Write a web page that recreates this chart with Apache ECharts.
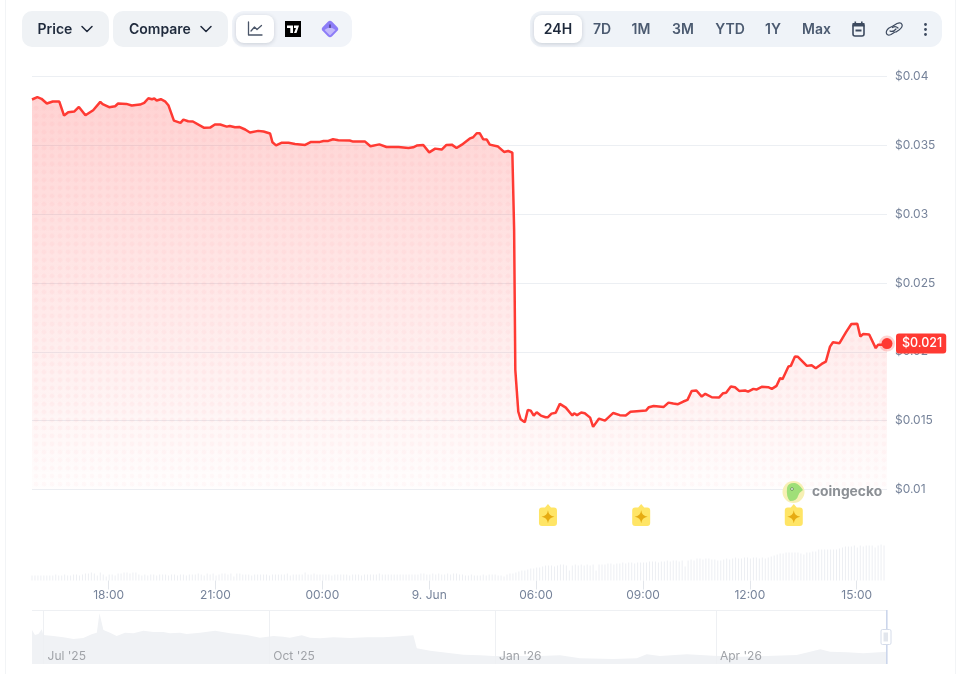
<!DOCTYPE html>
<html>
<head>
<meta charset="utf-8">
<title>Token price, 24 hours</title>
<script src="https://cdn.jsdelivr.net/npm/echarts@6/dist/echarts.min.js"></script>
<style>
  html, body { margin: 0; padding: 0; background: #fff; }
  #chart { width: 960px; height: 674px; }
</style>
</head>
<body>
<div id="chart"></div>
<script>
// Minutes since the start of the 24 hour window (15:52)
const priceMinutes = [
  0,9,16,25,35,46,54,61,71,79,90,103,115,119,130,140,145,159,168,182,189,196,202,206,210,217,224,230,239,250,
  255,263,271,290,300,308,317,328,333,336,342,349,359,367,381,390,401,405,411,420,432,443,460,470,485,491,499,507,516,535,
  541,561,570,585,597,617,634,642,648,659,669,679,690,698,707,715,724,738,743,749,754,760,766,771,785,795,802,809,812,814,
  819,823,830,835,840,845,850,857,865,869,875,882,889,899,910,913,918,925,931,940,945,955,965,979,990,1000,1008,1024,1034,1039,
  1047,1064,1072,1080,1088,1097,1104,1111,1119,1128,1134,1145,1157,1164,1169,1177,1184,1191,1201,1206,1215,1220,1229,1240,1246,1254,1260,1264,1274,1278,
  1285,1290,1305,1313,1320,1330,1337,1344,1349,1360,1371,1380,1390,1395,1400,1410,1421,1425,1434,1440
];
const priceValues = [
  .03833,.03850,.03838,.03804,.03818,.03818,.03716,.03740,.03745,.03779,.03718,.03755,.03816,.03799,.03777,.03784,.03804,.03801,.03789,.03796,.03809,.03842,.03835,.03840,.03826,.03835,.03820,.03789,.03680,.03663,
  .03687,.03675,.03673,.03627,.03629,.03651,.03651,.03636,.03641,.03629,.03631,.03634,.03615,.03593,.03605,.03600,.03586,.03522,.03500,.03518,.03518,.03510,.03503,.03525,.03525,.03532,.03532,.03544,.03537,.03535,
  .03527,.03527,.03493,.03507,.03488,.03488,.03481,.03486,.03498,.03503,.03449,.03476,.03469,.03503,.03505,.03481,.03505,.03551,.03559,.03588,.03588,.03544,.03542,.03505,.03491,.03452,.03459,.03447,.02887,.01869,
  .01566,.01510,.01488,.01578,.01573,.01537,.01561,.01537,.01525,.01525,.01551,.01558,.01622,.01595,.01537,.01554,.01540,.01559,.01554,.01522,.01455,.01515,.01500,.01556,.01540,.01537,.01564,.01571,.01573,.01598,
  .01607,.01600,.01631,.01624,.01620,.01639,.01651,.01716,.01719,.01675,.01695,.01670,.01668,.01700,.01702,.01748,.01743,.01716,.01719,.01711,.01731,.01726,.01746,.01743,.01731,.01753,.01809,.01801,.01893,.01898,
  .01966,.01964,.01898,.01903,.01881,.01912,.01929,.02038,.02070,.02063,.02143,.02202,.02204,.02111,.02129,.02126,.02027,.02051,.02051,.02060
];

// Trading volume for each 5 minute bucket, relative units
const volumeValues = [
  5,5,5,5,5,5,5,5,6,5,5,6, 5,5,6,6,5,6,7,7,8,7,5,8, 6,4,6,6,5,7,7,8,8,7,8,8,
  6,5,6,5,6,6,5,6,6,6,5,6, 6,5,6,6,5,6,6,6,7,6,5,7, 6,7,5,6,7,7,6,7,4,7,7,6,
  6,6,5,6,6,6,6,6,5,6,6,6, 6,6,7,5,6,6,6,6,8,6,6,7, 6,6,6,6,6,5,6,6,6,6,6,5,
  6,6,6,5,6,6,6,6,6,7,6,6, 6,6,6,6,6,6,6,6,6,6,6,7, 7,6,6,7,6,7,6,6,7,6,7,7,
  6,6,5,5,6,5,5,5,6,5,6,6, 6,5,5,4,6,7,7,8,9,10,10,11, 12,12,13,13,14,15,15,15,14,15,16,16,
  15,10,15,16,15,16,15,16,15,16,10,16, 16,16,17,17,16,17,17,18,17,18,18,17, 18,18,18,18,19,19,19,18,19,19,20,19,
  20,20,19,20,14,20,21,20,22,22,21,22, 22,21,21,20,20,21,22,21,22,23,22,22, 23,23,22,23,23,22,23,22,23,24,25,26,
  27,27,28,28,28,28,28,27,26,28,28,29, 29,31,31,31,31,31,31,31,32,33,34,34, 34,35,33,35,34,35,35,35,33,35,36,35
];
const volumeStepMinutes = 5;

// Event flags on the time axis
const flagMinutes = [869, 1026, 1283];

// Axis ticks
const priceTickStep = 0.005;
const timeTickMinutes = [129, 309, 489, 669, 849, 1029, 1209, 1389];
const timeTickLabels = ['18:00', '21:00', '00:00', '9. Jun', '06:00', '09:00', '12:00', '15:00'];

// Long range overview: days since 1 Jul 2025 and price
const overviewDays = [
  -4.7,-3.5,-2.1,-0.7,-0.1,4,8.1,12.2,16.2,19.6,21.7,22.8,23.6,24.4,27.1,29.8,33.2,36.6,40.7,44.8,48.8,51.5,55.6,58.3,63.8,69.9,76,82.8,88.2,93.7,
  97.7,100.4,105.2,108.6,112.7,118.1,124.9,131.7,138.5,145.3,150.7,152.1,157.5,164.3,171.1,177.9,183.3,191.5,202.3,210.5,218.6,232.2,241.7,245.8,251.2,262.1,273,283.8,294.7,306.9,
  312.4,316.5,320.5,327.3,334.1,343.7
];
const overviewValues = [
  .0568,.0485,.0501,.0579,.0485,.0468,.0446,.0418,.0434,.0496,.0524,.0847,.0847,.0568,.0524,.0468,.0524,.0512,.0557,.0535,.0535,.0512,.0524,.0501,.0524,.0557,.0512,.0485,.0440,.0468,
  .0457,.0440,.0479,.0440,.0429,.0446,.0434,.0446,.0446,.0462,.0479,.0262,.0223,.0189,.0156,.0145,.0134,.0134,.0134,.0145,.0095,.0084,.0095,.0162,.0134,.0162,.0139,.0123,.0134,.0150,
  .0206,.0245,.0206,.0195,.0178,.0206
];
const overviewTickDays = [0, 92, 184, 274];
const overviewTickLabels = ["Jul '25", "Oct '25", "Jan '26", "Apr '26"];

// Toolbar captions
const rangeButtons = [['24H', 558], ['7D', 602], ['1M', 641], ['3M', 683], ['YTD', 730], ['1Y', 773], ['Max', 816.5]];

const RED = '#ff3a33';
const GRID = '#eceff3';
const AXIS_TEXT = '#76839a';
const FONT = 'Inter, sans-serif';

// Soft dot texture for the area fill; it fades a little towards the bottom of the plot
function dotPattern() {
  const c = document.createElement('canvas');
  c.width = 960; c.height = 674;
  const g = c.getContext('2d');
  for (let y = 0; y < 674; y += 8) {
    const a = Math.max(0.025, 0.045 - 0.02 * Math.max(0, y - 400) / 90);
    for (let x = 0; x < 960; x += 8) {
      const r = g.createRadialGradient(x + 4, y + 4, 0, x + 4, y + 4, 3);
      r.addColorStop(0, 'rgba(255,70,90,' + a + ')');
      r.addColorStop(0.55, 'rgba(255,70,90,' + a + ')');
      r.addColorStop(1, 'rgba(255,70,90,0)');
      g.fillStyle = r;
      g.fillRect(x, y, 8, 8);
    }
  }
  return c;
}

const priceData = priceMinutes.map((m, i) => [m, priceValues[i]]);
const lastPrice = priceValues[priceValues.length - 1];
const volumeData = volumeValues.map((v, i) => [i * volumeStepMinutes, v]);
const overviewData = overviewDays.map((d, i) => [d, overviewValues[i]]);

// Icon outlines become registered shapes so the graphic component can place them
let iconCount = 0;
function iconType(pathData) {
  const name = 'toolbarIcon' + (iconCount++);
  echarts.graphic.registerShape(name, echarts.graphic.extendPath(pathData, {}));
  return name;
}

// Toolbar pieces
function box(x, y, w, h, r, fill, extra) {
  return { type: 'rect', silent: true, shape: { x, y, width: w, height: h, r },
           style: Object.assign({ fill }, extra || {}) };
}
function label(text, x, y, font, fill, align) {
  return { type: 'text', silent: true, style: { text, x, y, font, fill, textAlign: align || 'center', textVerticalAlign: 'middle' } };
}
function stroke(pathData, color, width) {
  return { type: iconType(pathData), silent: true,
           style: { fill: 'none', stroke: color, lineWidth: width, lineCap: 'round', lineJoin: 'round' } };
}
function solid(pathData, color) {
  return { type: iconType(pathData), silent: true, style: { fill: color } };
}

const shadow = { shadowBlur: 4, shadowColor: 'rgba(30,40,60,0.18)', shadowOffsetY: 1 };
const graphics = [
  // page frame
  { type: 'line', silent: true, shape: { x1: 5.5, y1: 0, x2: 5.5, y2: 674 }, style: { stroke: '#f2f4f6', lineWidth: 1 } },
  { type: 'line', silent: true, shape: { x1: 955.5, y1: 0, x2: 955.5, y2: 674 }, style: { stroke: '#f2f4f6', lineWidth: 1 } },

  // left toolbar
  box(22, 11, 87, 36, 10, '#eff2f5'),
  label('Price', 37.5, 29.5, '600 14px ' + FONT, '#1f2a3c', 'left'),
  stroke('M82 26.5 L87 31.5 L92 26.5', '#1f2a3c', 1.5),
  box(113, 11, 115, 36, 10, '#eff2f5'),
  label('Compare', 129, 29.5, '600 14px ' + FONT, '#1f2a3c', 'left'),
  stroke('M201 26.5 L206 31.5 L211 26.5', '#1f2a3c', 1.5),
  box(232, 11, 120, 36, 12, '#f1f4f9'),
  box(236, 15, 38, 28, 8, '#ffffff', shadow),
  stroke('M248.5 22 V35 H262 M251 31 L254.5 27 L257 29.5 L261.5 25.5', '#4a5568', 1.3),
  box(285, 21, 16, 16, 0, '#000000'),
  solid('M287 25.5 H293 V33 H290.3 V28 H287 Z', '#ffffff'),
  solid('M294 25.5 H299 L296.5 33 H294 L296 28 H294 Z', '#ffffff'),
  { type: 'rect', silent: true, x: 330, y: 29, originX: 0, originY: 0, rotation: Math.PI / 4,
    shape: { x: -6.6, y: -6.6, width: 13.2, height: 13.2, r: 3 }, style: { fill: '#8c7cf7' } },
  solid('M324.5 30 Q330 25 335.5 30 L330 35.5 Z', '#c2b8fb'),
  { type: 'rect', silent: true, shape: { x: 329.5, y: 24.5, width: 1, height: 3.5 }, style: { fill: '#2b2350' } },

  // right toolbar
  box(530, 11, 412, 36, 12, '#eff3f8'),
  box(534, 15, 48, 28, 8, '#ffffff', shadow),
  ...rangeButtons.map((b, i) => label(b[0], b[1], 29.5, '600 14px ' + FONT, i === 0 ? '#1f2a3c' : '#4b5a70')),
  box(853, 24, 11, 12, 2, 'none', { stroke: '#3d4a5f', lineWidth: 1.6 }),
  { type: 'rect', silent: true, shape: { x: 852.5, y: 23, width: 12, height: 3.5 }, style: { fill: '#3d4a5f' } },
  { type: 'rect', silent: true, shape: { x: 855.5, y: 29.5, width: 6, height: 2 }, style: { fill: '#3d4a5f' } },
  { type: 'rect', silent: true, shape: { x: 854.5, y: 21.5, width: 1.6, height: 2.5 }, style: { fill: '#3d4a5f' } },
  { type: 'rect', silent: true, shape: { x: 861, y: 21.5, width: 1.6, height: 2.5 }, style: { fill: '#3d4a5f' } },
  stroke('M893 26 L897 23.5 Q901 22 902 24.5 Q903 27 899 30 L896 32 M895 32 L891 34.5 Q887.5 36 886.5 33.5 Q885.5 31 889 28 L893 26', '#3d4a5f', 1.2),
  stroke('M890 31 Q893 32.5 896 29 M892.5 27.5 Q895.5 25.5 898 28', '#3d4a5f', 1.2),
  { type: 'circle', silent: true, shape: { cx: 925.5, cy: 24.5, r: 1.4 }, style: { fill: '#3d4a5f' } },
  { type: 'circle', silent: true, shape: { cx: 925.5, cy: 29.5, r: 1.4 }, style: { fill: '#3d4a5f' } },
  { type: 'circle', silent: true, shape: { cx: 925.5, cy: 34.5, r: 1.4 }, style: { fill: '#3d4a5f' } },

  // brand mark
  { type: 'circle', silent: true, z: 20, shape: { cx: 793.5, cy: 492, r: 11 }, style: { fill: '#f7f0b4' } },
  Object.assign(solid('M787 488 Q788 482.5 795 483 Q799 484 803 490 Q799 492.5 798 496 Q797 501 790 501 Q786 497 787 488 Z', '#9fdf78'), { z: 21 }),
  { type: 'circle', silent: true, z: 22, shape: { cx: 792, cy: 489, r: 1.4 }, style: { fill: '#ffffff', stroke: '#4c7a3a', lineWidth: 0.7 } },
  label('coingecko', 812, 491.5, '700 13.8px ' + FONT, '#8c9095', 'left'),

  // overview range handle
  { type: 'rect', silent: true, z: 20, shape: { x: 886, y: 610, width: 1.6, height: 54 }, style: { fill: '#ccd6eb' } },
  Object.assign(box(881, 629.5, 10, 15, 1.5, '#ffffff', { stroke: '#d5dcea', lineWidth: 1 }), { z: 21 }),
  { type: 'rect', silent: true, z: 22, shape: { x: 883.5, y: 632.5, width: 4.5, height: 9 }, style: { fill: '#e2e6ed' } }
];
graphics.forEach(g => { if (g.z === undefined) g.z = 20; });

const option = {
  animation: false,
  textStyle: { fontFamily: FONT },
  graphic: { elements: graphics },
  grid: [
    { left: 32, right: 73, top: 76.5, height: 413 },
    { left: 32, right: 73, top: 489.5, height: 91 },
    { left: 32, right: 73, top: 610, height: 54 }
  ],
  xAxis: [
    { gridIndex: 0, type: 'value', min: 0, max: 1440, show: false },
    { gridIndex: 1, type: 'value', min: 0, max: 1440,
      axisLine: { show: false },
      splitLine: { show: false },
      axisTick: { show: true, length: 9, lineStyle: { color: '#e3e6eb' }, customValues: timeTickMinutes },
      axisLabel: { color: AXIS_TEXT, fontSize: 12, fontFamily: FONT, margin: 9, customValues: timeTickMinutes,
                   formatter: v => timeTickLabels[timeTickMinutes.indexOf(v)] } },
    { gridIndex: 2, type: 'value', min: -4.7, max: 343.7, z: 12,
      axisLine: { show: false },
      axisTick: { show: false, customValues: overviewTickDays },
      splitLine: { show: false },
      axisLabel: { inside: true, margin: 2, color: '#a0a3a8', fontSize: 12, fontFamily: FONT, align: 'left',
                   padding: [0, 0, 0, 4], customValues: overviewTickDays,
                   formatter: v => overviewTickLabels[overviewTickDays.indexOf(v)] } }
  ],
  yAxis: [
    { gridIndex: 0, type: 'value', position: 'right', min: 0.01, max: 0.04, interval: priceTickStep,
      axisLine: { show: false }, axisTick: { show: false },
      splitLine: { show: true, lineStyle: { color: GRID, width: 1 } },
      axisLabel: { color: AXIS_TEXT, fontSize: 12, fontFamily: FONT, margin: 8, padding: [3, 0, 0, 0],
                   formatter: v => '$' + Number(v.toFixed(3)) } },
    { gridIndex: 1, type: 'value', min: 0, max: 91, show: false },
    { gridIndex: 1, type: 'value', min: 0, max: 1, show: false },
    { gridIndex: 2, type: 'value', min: 0, max: 0.0902, show: false }
  ],
  series: [
    // price area with gradient
    { type: 'line', xAxisIndex: 0, yAxisIndex: 0, data: priceData, symbol: 'none', silent: true, z: 3,
      lineStyle: { color: RED, width: 2.5 },
      areaStyle: { color: new echarts.graphic.LinearGradient(0, 0, 0, 1, [
        { offset: 0, color: 'rgba(255,58,58,0.32)' },
        { offset: 1, color: 'rgba(255,58,58,0.01)' }
      ]) } },
    // dotted texture over the area
    { type: 'line', xAxisIndex: 0, yAxisIndex: 0, data: priceData, symbol: 'none', silent: true, z: 2,
      lineStyle: { width: 0, opacity: 0 },
      areaStyle: { opacity: 1, color: { image: dotPattern(), repeat: 'repeat' } } },
    // latest price marker and its tag
    { type: 'scatter', xAxisIndex: 0, yAxisIndex: 0, silent: true, z: 6, clip: false,
      data: [[priceMinutes[priceMinutes.length - 1], lastPrice]],
      symbolSize: 11,
      itemStyle: { color: RED, opacity: 1, borderColor: 'rgba(255,58,51,0.22)', borderWidth: 5 },
      label: { show: true, position: 'right', distance: 1, opacity: 1,
               formatter: p => '$' + p.value[1].toFixed(3),
               color: '#ffffff', backgroundColor: RED, borderRadius: 3,
               padding: [4, 4, 3, 6], fontSize: 12.5, fontWeight: 500, fontFamily: FONT } },
    // volume
    { type: 'bar', xAxisIndex: 1, yAxisIndex: 1, data: volumeData, barWidth: 1, silent: true,
      itemStyle: { color: '#edeff3' } },
    // event flags
    { type: 'scatter', xAxisIndex: 1, yAxisIndex: 2, silent: true, z: 8,
      data: flagMinutes.map(m => [m, 0.72]),
      symbol: 'path://M9 0 L12 3.5 H15 Q18 3.5 18 6.5 V19 Q18 22 15 22 H3 Q0 22 0 19 V6.5 Q0 3.5 3 3.5 H6 Z',
      symbolSize: [18, 22], itemStyle: { color: '#ffe566', opacity: 1 } },
    { type: 'scatter', xAxisIndex: 1, yAxisIndex: 2, silent: true, z: 9,
      data: flagMinutes.map(m => [m, 0.70]),
      symbol: 'path://M6 0 Q6.6 5.4 12 6 Q6.6 6.6 6 12 Q5.4 6.6 0 6 Q5.4 5.4 6 0 Z',
      symbolSize: 13, itemStyle: { color: '#e6ab12', opacity: 1 } },
    // long range overview
    { type: 'line', xAxisIndex: 2, yAxisIndex: 3, data: overviewData, symbol: 'none', silent: true,
      lineStyle: { width: 0, opacity: 0 },
      areaStyle: { color: '#f0f2f5', opacity: 1 },
      markLine: { silent: true, symbol: 'none', animation: false, label: { show: false },
                  lineStyle: { color: '#eef0f3', width: 1, type: 'solid' },
                  data: overviewTickDays.map(d => ({ xAxis: d })).concat([{ yAxis: 0.0902 }]) } }
  ]
};

const chart = echarts.init(document.getElementById('chart'));
chart.setOption(option);
</script>
</body>
</html>
